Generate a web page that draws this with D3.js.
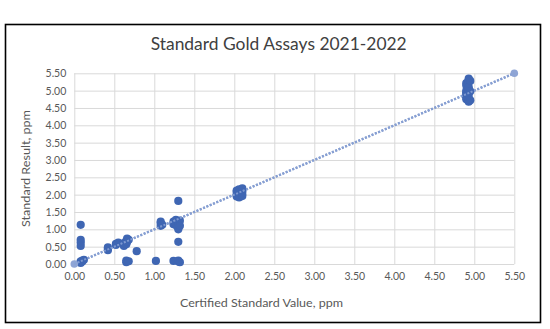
<!DOCTYPE html>
<html>
<head>
<meta charset="utf-8">
<script src="https://cdn.jsdelivr.net/npm/d3@7"></script>
<style>
  html, body { margin: 0; padding: 0; background: #fff; }
  svg { display: block; font-family: Lato, "Open Sans", sans-serif; }
</style>
</head>
<body>
<svg id="chart" width="550" height="329"></svg>
<script>
// Certified value of each standard (ppm) and the assay result returned for it (ppm)
const certified = [
  0.08, 0.08, 0.08, 0.08, 0.08, 0.08, 0.08, 0.10, 0.10, 0.12,
  0.42, 0.42, 0.42, 0.52, 0.52, 0.55, 0.62, 0.62,
  0.65, 0.65, 0.65, 0.65, 0.66, 0.66, 0.68, 0.68, 0.78, 1.02,
  1.08, 1.08, 1.08, 1.10,
  1.24, 1.24, 1.24, 1.27, 1.27, 1.27,
  1.30, 1.30, 1.30, 1.30, 1.30, 1.30, 1.30, 1.30, 1.30,
  1.32, 1.32, 1.32,
  2.03, 2.03, 2.03, 2.03, 2.06, 2.06, 2.06, 2.06, 2.10, 2.10, 2.10, 2.10,
  4.90, 4.90, 4.90, 4.90, 4.90, 4.90, 4.90, 4.90,
  4.93, 4.93, 4.93, 4.93, 4.93, 4.93, 4.93, 4.93, 4.93,
  4.95, 4.95, 4.95
];
const result = [
  1.13, 0.70, 0.62, 0.52, 0.08, 0.05, 0.03, 0.10, 0.07, 0.12,
  0.48, 0.40, 0.44, 0.58, 0.55, 0.62, 0.52, 0.60,
  0.67, 0.57, 0.05, 0.10, 0.73, 0.64, 0.70, 0.08, 0.37, 0.09,
  1.18, 1.10, 1.22, 1.13,
  1.22, 1.15, 0.09, 1.27, 1.12, 1.18,
  1.82, 0.64, 1.08, 1.05, 1.00, 0.07, 0.10, 1.20, 1.15,
  1.25, 1.10, 0.05,
  2.00, 2.08, 1.95, 2.12, 2.15, 2.05, 1.98, 1.92, 2.10, 2.02, 2.18, 1.96,
  5.22, 5.15, 5.00, 4.95, 4.90, 4.85, 4.80, 4.75,
  5.35, 5.30, 5.25, 5.05, 4.70, 4.68, 4.78, 4.88, 5.10,
  5.28, 4.98, 4.72
];
// 1:1 reference line (certified = result)
const parityLine = [0, 5.5];
const ticks = [0, 0.5, 1, 1.5, 2, 2.5, 3, 3.5, 4, 4.5, 5, 5.5];

const title = "Standard Gold Assays 2021-2022";
const xTitle = "Certified Standard Value, ppm";
const yTitle = "Standard Result, ppm";

const svg = d3.select("#chart");
const plot = { left: 74.3, right: 514.3, top: 73.3, bottom: 264 };

const x = d3.scaleLinear().domain([0, 5.5]).range([plot.left, plot.right]);
const y = d3.scaleLinear().domain([0, 5.5]).range([plot.bottom, plot.top]);

// chart frame
svg.append("rect")
  .attr("x", 5.5).attr("y", 24.5).attr("width", 535).attr("height", 298)
  .attr("fill", "#fff").attr("stroke", "#000").attr("stroke-width", 1.6);

// title
svg.append("text")
  .attr("x", 278.7).attr("y", 50)
  .attr("text-anchor", "middle")
  .attr("font-size", 16.5).attr("fill", "#404040")
  .attr("textLength", 256).attr("lengthAdjust", "spacingAndGlyphs")
  .text(title);

// gridlines
const fmt = d3.format(".2f");
const xAxis = d3.axisBottom(x).tickValues(ticks).tickFormat(fmt)
  .tickSize(-(plot.bottom - plot.top)).tickPadding(9);
const yAxis = d3.axisLeft(y).tickValues(ticks).tickFormat(fmt)
  .tickSize(-(plot.right - plot.left)).tickPadding(8);

const gx = svg.append("g").attr("transform", `translate(0,${plot.bottom})`).call(xAxis);
const gy = svg.append("g").attr("transform", `translate(${plot.left},0)`).call(yAxis);
[gx, gy].forEach(g => {
  g.select(".domain").remove();
  g.selectAll(".tick line").attr("stroke", "#d9d9d9").attr("stroke-width", 1);
  g.selectAll(".tick text")
    .attr("fill", "#595959")
    .attr("font-size", 10.5)
    .attr("font-family", "Lato, 'Open Sans', sans-serif");
});

// axis titles
svg.append("text")
  .attr("x", 261.5).attr("y", 306.5)
  .attr("text-anchor", "middle")
  .attr("font-size", 11.5).attr("fill", "#595959")
  .attr("textLength", 163).attr("lengthAdjust", "spacingAndGlyphs")
  .text(xTitle);

svg.append("text")
  .attr("transform", `translate(30,168.5) rotate(-90)`)
  .attr("text-anchor", "middle")
  .attr("font-size", 11.5).attr("fill", "#595959")
  .attr("textLength", 117).attr("lengthAdjust", "spacingAndGlyphs")
  .text(yTitle);

// parity line, dotted
svg.append("line")
  .attr("x1", x(parityLine[0])).attr("y1", y(parityLine[0]))
  .attr("x2", x(parityLine[1])).attr("y2", y(parityLine[1]))
  .attr("stroke", "#7a93c9").attr("stroke-width", 2.4)
  .attr("stroke-dasharray", "2,1.6");

// assay points
svg.append("g").selectAll("circle")
  .data(certified.map((c, i) => [c, result[i]]))
  .join("circle")
  .attr("cx", d => x(d[0])).attr("cy", d => y(d[1]))
  .attr("r", 4.1)
  .attr("fill", "#3f66b3");

// parity line end markers
svg.append("g").selectAll("circle")
  .data(parityLine)
  .join("circle")
  .attr("cx", d => x(d)).attr("cy", d => y(d))
  .attr("r", 3.8)
  .attr("fill", "#8fa5d5");

// redraw line over the points so it stays visible through the clusters
svg.append("line")
  .attr("x1", x(parityLine[0])).attr("y1", y(parityLine[0]))
  .attr("x2", x(parityLine[1])).attr("y2", y(parityLine[1]))
  .attr("stroke", "#8aa3d6").attr("stroke-width", 2)
  .attr("stroke-dasharray", "2,1.6")
  .attr("opacity", 0.85);
</script>
</body>
</html>
